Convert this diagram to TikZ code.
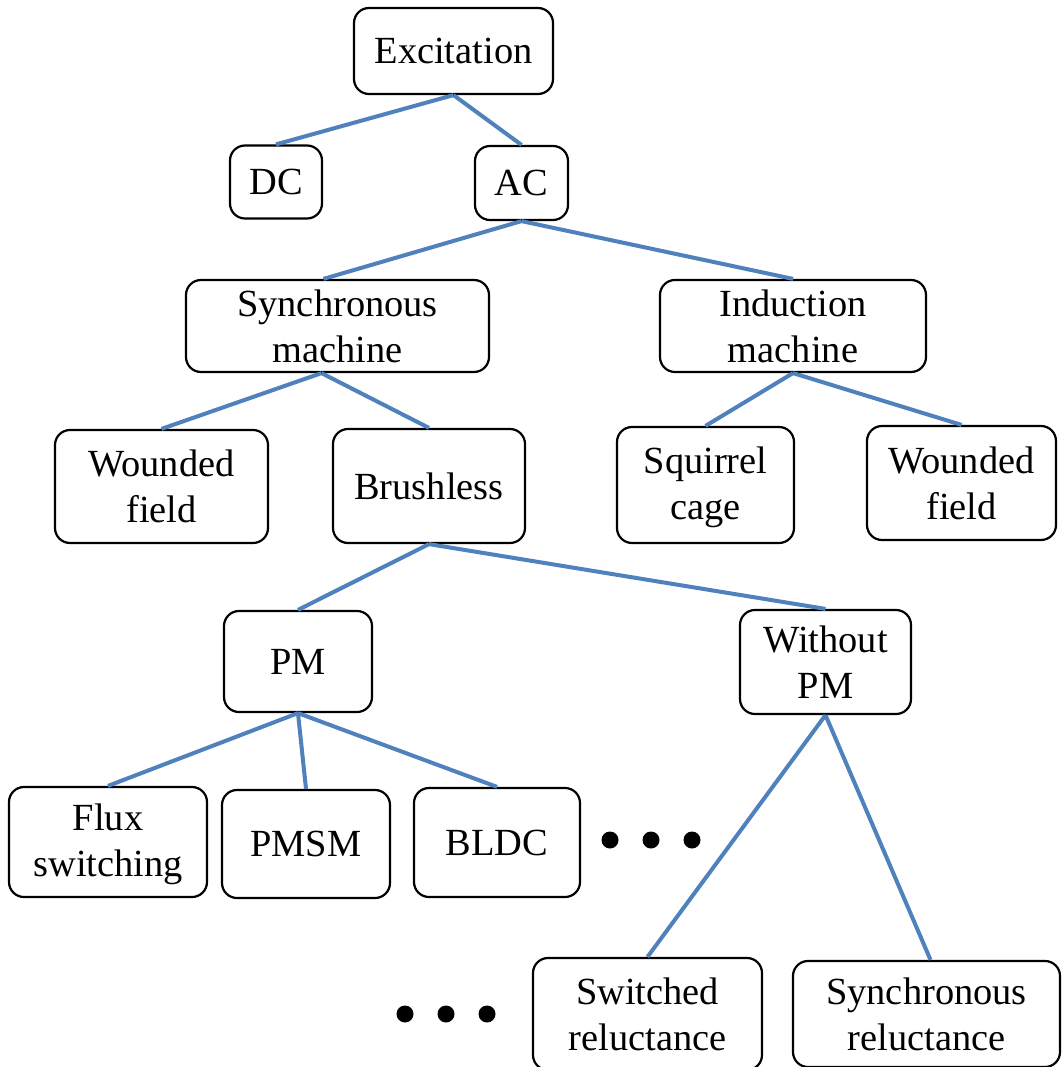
\documentclass[tikz,border=0pt]{standalone}
\usepackage{fontspec}
\setmainfont{Liberation Serif}
\definecolor{linkblue}{RGB}{79,129,189}
\begin{document}
\begin{tikzpicture}[x=1pt,y=-1pt,
  box/.style={draw=black,line width=2.2pt,rounded corners=15pt,inner sep=0pt,
    align=center,font=\fontsize{38.4}{46}\selectfont},
  link/.style={draw=linkblue,line width=4pt},
  dot/.style={circle,fill=black,inner sep=0pt,minimum size=17pt}]
\clip (0,0) rectangle (1061,1067);
\fill[white] (0,0) rectangle (1061,1067);
% nodes
\node[box,minimum width=199pt,minimum height=86pt] (exc) at (453.5,51) {Excitation};
\node[box,minimum width=92pt,minimum height=73pt] (dc) at (276,182) {DC};
\node[box,minimum width=93pt,minimum height=74pt] (ac) at (521.5,183) {AC};
\node[box,minimum width=303pt,minimum height=92pt] (sync) at (337.5,326) {Synchronous\\machine};
\node[box,minimum width=266pt,minimum height=92pt] (ind) at (793,326) {Induction\\machine};
\node[box,minimum width=213pt,minimum height=113pt] (wf1) at (161.5,486.5) {Wounded\\field};
\node[box,minimum width=192pt,minimum height=114pt] (brush) at (429,486) {Brushless};
\node[box,minimum width=177pt,minimum height=116pt,text depth=3pt] (sq) at (705.5,485) {Squirrel\\cage};
\node[box,minimum width=189pt,minimum height=114pt] (wf2) at (961.5,483) {Wounded\\field};
\node[box,minimum width=148pt,minimum height=101pt] (pm) at (298,661.5) {PM};
\node[box,minimum width=171pt,minimum height=104pt] (wpm) at (825.5,662) {Without\\PM};
\node[box,minimum width=198pt,minimum height=110pt,text depth=3pt] (flux) at (108,842) {Flux\\switching};
\node[box,minimum width=168pt,minimum height=108pt] (pmsm) at (306,844) {PMSM};
\node[box,minimum width=166pt,minimum height=109pt] (bldc) at (497,842.5) {BLDC};
\node[box,minimum width=229pt,minimum height=112pt] (swr) at (647.5,1014) {Switched\\reluctance};
\node[box,minimum width=267pt,minimum height=106pt] (synr) at (926.5,1014) {Synchronous\\reluctance};
% dots
\node[dot] (d1) at (610,840) {};
\node[dot] (d2) at (651,840) {};
\node[dot] (d3) at (692,840) {};
\node[dot] (e1) at (405,1014) {};
\node[dot] (e2) at (446,1014) {};
\node[dot] (e3) at (487,1014) {};
% connectors
\draw[link] (exc.south) -- (dc.north);
\draw[link] (exc.south) -- (ac.north);
\draw[link] (ac.south) -- ([xshift=-14pt]sync.north);
\draw[link] (ac.south) -- (ind.north);
\draw[link] ([xshift=-16pt]sync.south) -- (wf1.north);
\draw[link] ([xshift=-16pt]sync.south) -- (brush.north);
\draw[link] (ind.south) -- (sq.north);
\draw[link] (ind.south) -- (wf2.north);
\draw[link] (brush.south) -- (pm.north);
\draw[link] (brush.south) -- (wpm.north);
\draw[link] (pm.south) -- (flux.north);
\draw[link] (pm.south) -- (pmsm.north);
\draw[link] (pm.south) -- (bldc.north);
\draw[link] (wpm.south) -- (swr.north);
\draw[link] (wpm.south) -- ([xshift=4pt]synr.north);
\end{tikzpicture}
\end{document}
